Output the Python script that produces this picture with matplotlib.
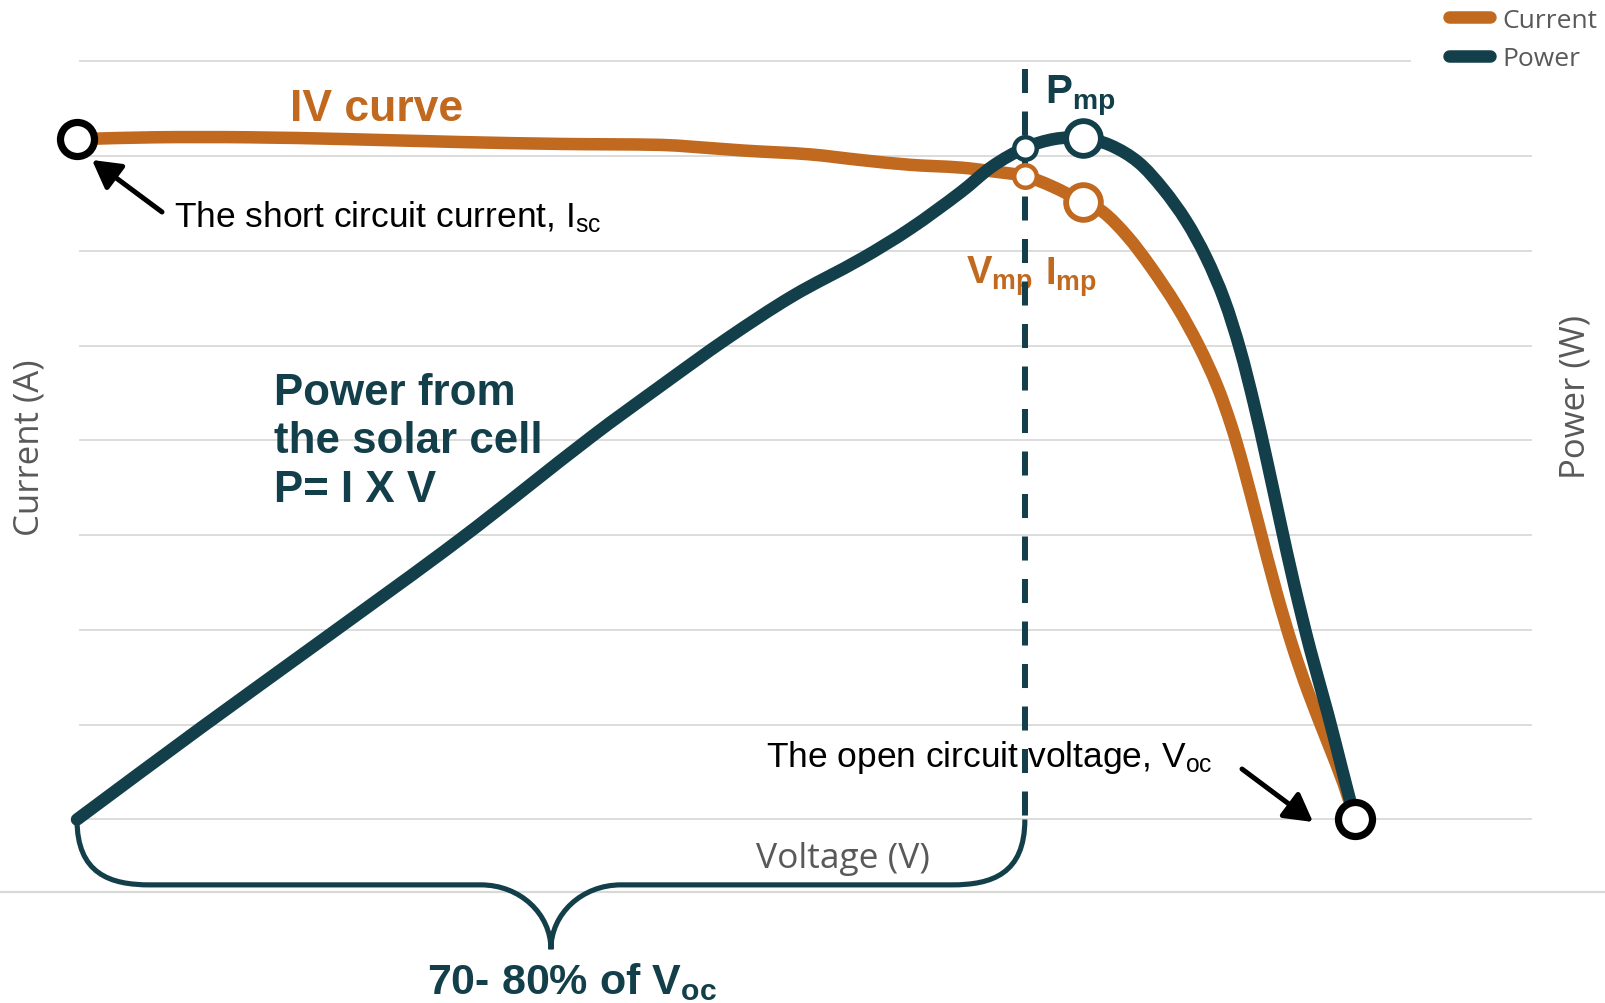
import matplotlib
matplotlib.use("Agg")
import numpy as np
import matplotlib.pyplot as plt
from matplotlib.path import Path
from matplotlib.patches import PathPatch
from matplotlib.lines import Line2D

# ---------------- data ----------------
# IV curve: voltage (V) and current (A)
voltage_iv = [0.0000, 0.0360, 0.0810, 0.1280, 0.1800, 0.2270, 0.2740, 0.2890, 0.3130,
              0.3440, 0.3680, 0.3910, 0.4150, 0.4300, 0.4450, 0.4580, 0.4723, 0.4817,
              0.4930, 0.5038, 0.5163, 0.5267, 0.5353, 0.5420, 0.5475, 0.5549, 0.5631,
              0.5706, 0.5780, 0.5871, 0.5947, 0.6000]
current = [7.18, 7.20, 7.20, 7.18, 7.15, 7.13, 7.12, 7.10, 7.06,
           7.02, 6.96, 6.91, 6.88, 6.84, 6.79, 6.68, 6.517, 6.412,
           6.158, 5.842, 5.420, 4.997, 4.575, 4.153, 3.731, 3.098, 2.401,
           1.831, 1.346, 0.818, 0.375, 0.000]

# Power curve: voltage (V) and power (W)
voltage_p = [0.0000, 0.0580, 0.1190, 0.1800, 0.2420, 0.2740, 0.3050, 0.3360, 0.3680,
             0.3910, 0.4150, 0.4300, 0.4450, 0.4590, 0.4723, 0.4850, 0.4981, 0.5099,
             0.5207, 0.5300, 0.5385, 0.5460, 0.5526, 0.5587, 0.5648, 0.5714, 0.5789,
             0.5873, 0.5939, 0.6000]
power = [0.000, 0.386, 0.783, 1.184, 1.619, 1.830, 2.029, 2.210, 2.366,
         2.493, 2.649, 2.759, 2.835, 2.873, 2.877, 2.847, 2.776, 2.662,
         2.527, 2.375, 2.197, 1.986, 1.754, 1.513, 1.260, 0.994, 0.720,
         0.445, 0.213, 0.000]

# key points
isc = 7.18          # short circuit current
voc = 0.600         # open circuit voltage
v_mark = 0.445      # dashed-line voltage (small rings)
i_at_mark = 6.79
p_at_mark = 2.835
v_mp = 0.4723       # maximum power point
i_mp = 6.517
p_mp = 2.877

grid_current = [0, 1, 2, 3, 4, 5, 6, 7, 8]
series_labels = ["Current", "Power"]

# ---------------- style ----------------
ORANGE = "#C0691F"
TEAL = "#133F4A"
GRAY_TXT = "#595959"
GRID = "#D9D9D9"

plt.rcParams["mathtext.fontset"] = "custom"
plt.rcParams["mathtext.rm"] = "Liberation Sans"
plt.rcParams["mathtext.it"] = "Liberation Sans:italic"
plt.rcParams["mathtext.bf"] = "Liberation Sans:bold"
plt.rcParams["lines.scale_dashes"] = False

W, H = 1606, 1004
fig = plt.figure(figsize=(W / 100, H / 100), dpi=100)
fig.patch.set_facecolor("white")


def fx(px):
    return px / W


def fy(py):
    return 1 - py / H


def smooth_path(xs, ys, trans):
    """Smoothed line through the data points (chord-length cubic Beziers)."""
    pts = np.column_stack([xs, ys]).astype(float)
    disp = trans.transform(pts)
    d = np.hypot(*np.diff(disp, axis=0).T)
    n = len(pts)
    tang = np.zeros_like(pts)
    tang[0] = (pts[1] - pts[0]) / d[0]
    tang[-1] = (pts[-1] - pts[-2]) / d[-1]
    for i in range(1, n - 1):
        tang[i] = (pts[i + 1] - pts[i - 1]) / (d[i - 1] + d[i])
    verts = [tuple(pts[0])]
    codes = [Path.MOVETO]
    for i in range(n - 1):
        c1 = pts[i] + tang[i] * d[i] / 3.0
        c2 = pts[i + 1] - tang[i + 1] * d[i] / 3.0
        verts += [tuple(c1), tuple(c2), tuple(pts[i + 1])]
        codes += [Path.CURVE4] * 3
    return Path(verts, codes)


ax = fig.add_axes([0, 0, 1, 1])
ax.set_xlim(-0.03615, 0.71784)
ax.set_ylim(-1.9367, 8.6596)
ax.set_axis_off()
ax2 = ax.twinx()
ax2.set_ylim(-1.9367 * 0.4, 8.6596 * 0.4)
ax2.set_axis_off()

# gridlines
for g in grid_current:
    xmax = 0.626 if g == grid_current[-1] else 0.6826
    ax.plot([0.0015, xmax], [g, g], color=GRID, lw=1.3, zorder=0)
# bottom full-width rule
ax.axhline(-0.765, color=GRID, lw=1.6, zorder=0)

# curves
LW = 9.0
ax.add_patch(PathPatch(smooth_path(voltage_iv, current, ax.transData), facecolor="none",
                       edgecolor=ORANGE, lw=LW, capstyle="round", joinstyle="round",
                       zorder=2))
ax2.add_patch(PathPatch(smooth_path(voltage_p, power, ax2.transData), facecolor="none",
                        edgecolor=TEAL, lw=LW, capstyle="round", joinstyle="round",
                        zorder=2))

# dashed line at v_mark
ax.plot([v_mark, v_mark], [7.92, 0.0], color=TEAL, lw=4.3, dashes=(17.3, 13.3),
        dash_capstyle="butt", zorder=3)

# brace under the x-axis from 0 to v_mark
x0, x1 = 0.0, v_mark
xm = (x0 + x1) / 2
y_top, y_flat, y_tip = 0.0, -0.69, -1.37
cw, mw = 0.0343, 0.0329
verts = [
    (x0, y_top), (x0, -0.575), (x0 + 0.0155, y_flat), (x0 + cw, y_flat),
    (xm - mw, y_flat),
    (xm - 0.0145, y_flat), (xm, -0.997), (xm, y_tip),
    (xm, -0.997), (xm + 0.0145, y_flat), (xm + mw, y_flat),
    (x1 - cw, y_flat),
    (x1 - 0.0155, y_flat), (x1, -0.575), (x1, y_top),
]
codes = [Path.MOVETO, Path.CURVE4, Path.CURVE4, Path.CURVE4,
         Path.LINETO,
         Path.CURVE4, Path.CURVE4, Path.CURVE4,
         Path.CURVE4, Path.CURVE4, Path.CURVE4,
         Path.LINETO,
         Path.CURVE4, Path.CURVE4, Path.CURVE4]
ax.add_patch(PathPatch(Path(verts, codes), facecolor="none", edgecolor=TEAL,
                       lw=3.7, zorder=3, capstyle="butt"))

# rings
ax.plot([0.0], [isc], marker="o", ms=24.5, mew=5.2, mec="black", mfc="white",
        ls="none", zorder=6)
ax2.plot([voc], [0.0], marker="o", ms=24.5, mew=5.2, mec="black", mfc="white",
         ls="none", zorder=6)
ax.plot([v_mark], [i_at_mark], marker="o", ms=16.2, mew=3.2, mec=ORANGE, mfc="white",
        ls="none", zorder=6)
ax.plot([v_mp], [i_mp], marker="o", ms=25, mew=4.2, mec=ORANGE, mfc="white",
        ls="none", zorder=6)
ax2.plot([v_mark], [p_at_mark], marker="o", ms=16.2, mew=3.2, mec=TEAL, mfc="white",
         ls="none", zorder=6)
ax2.plot([v_mp], [p_mp], marker="o", ms=25, mew=4.2, mec=TEAL, mfc="white",
         ls="none", zorder=6)

# ---------------- texts ----------------
TF = fig.transFigure
SANS = "Liberation Sans"
OPEN = "Open Sans"

ax.text(fx(377), fy(121), "IV curve", transform=TF, ha="center", va="baseline",
        fontsize=32, fontweight="bold", color=ORANGE, family=SANS, zorder=1)
ax.text(fx(174), fy(227), r"The short circuit current, I$_{\mathrm{sc}}$", transform=TF,
        ha="left", va="baseline", fontsize=25.5, color="black", family=SANS, zorder=1)
ax.text(fx(766), fy(767), r"The open circuit voltage, V$_{\mathrm{oc}}$", transform=TF,
        ha="left", va="baseline", fontsize=25.5, color="black", family=SANS, zorder=1)
for line, base in zip(["Power from", "the solar cell", "P= I X V"], [405, 453.5, 502.5]):
    ax.text(fx(274), fy(base), line, transform=TF, ha="left", va="baseline",
            fontsize=31.6, fontweight="bold", color=TEAL, family=SANS, zorder=1)
ax.text(fx(1045), fy(103), r"P$_{\mathbf{mp}}$", transform=TF, ha="left", va="baseline",
        fontsize=29, fontweight="bold", color=TEAL, family=SANS, zorder=1)
ax.text(fx(966), fy(284), r"V$_{\mathbf{mp}}$", transform=TF, ha="left", va="baseline",
        fontsize=27.5, fontweight="bold", color=ORANGE, family=SANS, zorder=1)
ax.text(fx(1045), fy(285), r"I$_{\mathbf{mp}}$", transform=TF, ha="left", va="baseline",
        fontsize=27.5, fontweight="bold", color=ORANGE, family=SANS, zorder=1)
ax.text(fx(427), fy(994), r"70- 80% of V$_{\mathbf{oc}}$", transform=TF, ha="left",
        va="baseline", fontsize=31, fontweight="bold", color=TEAL, family=SANS, zorder=1)

# axis titles
ax.text(fx(30), fy(448), "Current (A)", transform=TF, ha="center", va="center",
        rotation=90, fontsize=25, color=GRAY_TXT, family=OPEN, zorder=1)
ax.text(fx(1576), fy(397), "Power (W)", transform=TF, ha="center", va="center",
        rotation=90, fontsize=25, color=GRAY_TXT, family=OPEN, zorder=1)
ax.text(fx(843), fy(859), "Voltage (V)", transform=TF, ha="center", va="center",
        fontsize=25.5, color=GRAY_TXT, family=OPEN, zorder=1)

# arrows
arrow_style = "-|>,head_length=0.8,head_width=0.45"
ax.annotate("", xy=(fx(92), fy(161)), xycoords="figure fraction",
            xytext=(fx(162), fy(213)), textcoords="figure fraction",
            arrowprops=dict(arrowstyle=arrow_style, lw=3.6, color="black",
                            shrinkA=0, shrinkB=0, mutation_scale=21), zorder=5)
ax.annotate("", xy=(fx(1313), fy(823)), xycoords="figure fraction",
            xytext=(fx(1242), fy(770)), textcoords="figure fraction",
            arrowprops=dict(arrowstyle=arrow_style, lw=3.6, color="black",
                            shrinkA=0, shrinkB=0, mutation_scale=21), zorder=5)

# legend (proxy lines with the series styles)
h_cur = Line2D([], [], color=ORANGE, lw=LW, solid_capstyle="round")
h_pow = Line2D([], [], color=TEAL, lw=LW, solid_capstyle="round")
leg = fig.legend(handles=[h_cur, h_pow], labels=series_labels, loc="upper left",
                 bbox_to_anchor=(fx(1446), fy(6)), bbox_transform=TF,
                 frameon=False, borderpad=0.1, borderaxespad=0,
                 handlelength=1.55, handletextpad=0.5, labelspacing=0.5,
                 prop={"family": OPEN, "size": 19})
for t in leg.get_texts():
    t.set_color(GRAY_TXT)

fig.savefig("out.png", dpi=100, facecolor="white")
